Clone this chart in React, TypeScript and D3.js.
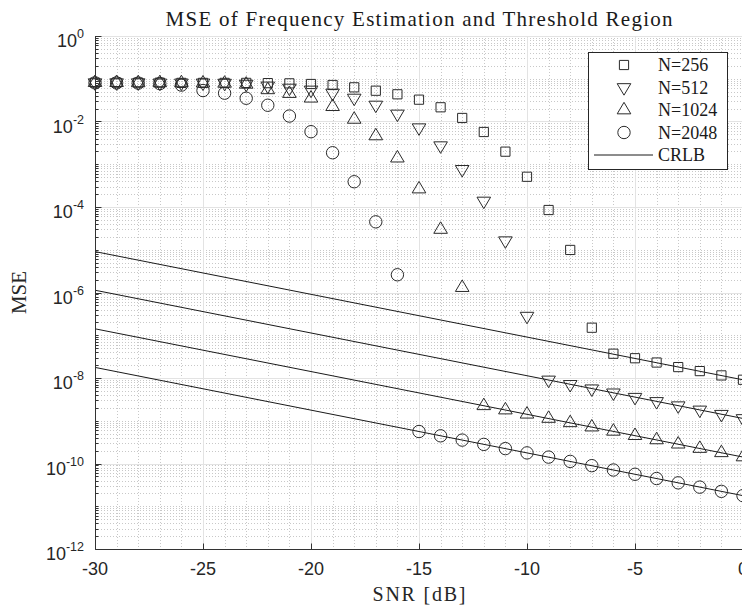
import React from 'react';
import * as d3 from 'd3';

// SNR in dB (x categories)
const snrDb = [-30, -29, -28, -27, -26, -25, -24, -23, -22, -21, -20, -19, -18, -17, -16, -15, -14, -13, -12, -11, -10, -9, -8, -7, -6, -5, -4, -3, -2, -1, 0];

// MSE values, one per SNR value
const mse256 = [0.081, 0.081, 0.081, 0.081, 0.080, 0.080, 0.080, 0.080, 0.079, 0.078,
  0.0754, 0.0714, 0.063, 0.0525, 0.0433, 0.0324, 0.0215, 0.0121, 0.00568, 0.00197,
  5.1e-4, 8.5e-5, 9.9e-6, 1.5e-7,
  3.7e-8, 2.9e-8, 2.3e-8, 1.8e-8, 1.45e-8, 1.15e-8, 9.1e-9];
const mse512 = [0.081, 0.081, 0.081, 0.080, 0.080, 0.080, 0.079, 0.075,
  0.068, 0.0607, 0.0546, 0.0464, 0.0354, 0.0243, 0.0150, 0.00716, 0.00272, 7.6e-4,
  1.38e-4, 1.63e-5, 2.8e-7,
  9.0e-9, 7.1e-9, 5.6e-9, 4.5e-9, 3.55e-9, 2.83e-9, 2.25e-9, 1.79e-9, 1.42e-9, 1.13e-9];
const mse1024 = [0.081, 0.081, 0.080, 0.080, 0.080, 0.079, 0.078, 0.074,
  0.055, 0.045, 0.035, 0.0222, 0.0112, 0.00459, 0.00139, 2.63e-4, 2.98e-5, 1.3e-6,
  2.24e-9, 1.78e-9, 1.42e-9, 1.13e-9, 8.95e-10, 7.1e-10, 5.65e-10, 4.48e-10, 3.56e-10, 2.83e-10, 2.24e-10, 1.78e-10, 1.42e-10];
const mse2048 = [0.080, 0.080, 0.079, 0.077, 0.071, 0.053, 0.046, 0.035,
  0.024, 0.0134, 0.00577, 0.00186, 3.9e-4, 4.5e-5, 2.6e-6,
  5.6e-10, 4.44e-10, 3.53e-10, 2.8e-10, 2.23e-10, 1.77e-10, 1.41e-10, 1.12e-10, 8.9e-11, 7.05e-11, 5.6e-11, 4.45e-11, 3.53e-11, 2.8e-11, 2.23e-11, 1.77e-11];

// CRLB straight lines (log scale): values at SNR -30 dB and 0 dB
const crlbSnr = [-30, 0];
const crlb256 = [9.06e-6, 9.06e-9];
const crlb512 = [1.13e-6, 1.13e-9];
const crlb1024 = [1.415e-7, 1.415e-10];
const crlb2048 = [1.77e-8, 1.77e-11];

const xTicks = [-30, -25, -20, -15, -10, -5, 0];
const yTickExps = [0, -2, -4, -6, -8, -10, -12];
const legendLabels = ['N=256', 'N=512', 'N=1024', 'N=2048', 'CRLB'];
const titleText = 'MSE of Frequency Estimation and Threshold Region';
const xLabel = 'SNR [dB]';
const yLabel = 'MSE';

const SANS = "'Liberation Sans', Arial, Helvetica, sans-serif";
const SERIF = "'Liberation Serif', 'Times New Roman', serif";

type Shape = 'square' | 'down' | 'up' | 'circle';

function markerPath(shape: Shape): string {
  const s = 4.6;
  const w = 6.8, h = 11.5;
  switch (shape) {
    case 'square':
      return `M${-s},${-s}H${s}V${s}H${-s}Z`;
    case 'down':
      return `M0,${(2 * h) / 3}L${-w},${-h / 3}H${w}Z`;
    case 'up':
      return `M0,${(-2 * h) / 3}L${-w},${h / 3}H${w}Z`;
    default: {
      const r = 6.2;
      return `M${r},0A${r},${r} 0 1,1 ${-r},0A${r},${r} 0 1,1 ${r},0Z`;
    }
  }
}

export default function App() {
  const W = 742, H = 605;
  const left = 95, right = 743, top = 36, bottom = 549;
  const x = d3.scaleLinear().domain([-30, 0]).range([left, right]);
  const y = d3.scaleLog().domain([1e-12, 1]).range([bottom, top]);

  const series: { vals: number[]; shape: Shape }[] = [
    { vals: mse256, shape: 'square' },
    { vals: mse512, shape: 'down' },
    { vals: mse1024, shape: 'up' },
    { vals: mse2048, shape: 'circle' },
  ];
  const crlbs = [crlb256, crlb512, crlb1024, crlb2048];

  const line = d3
    .line<[number, number]>()
    .x((d) => x(d[0]))
    .y((d) => y(d[1]));

  // grid positions
  const majorX = xTicks;
  const minorX = d3.range(-29, 0).filter((v) => v % 5 !== 0);
  const majorY = yTickExps.map((e) => Math.pow(10, e));
  const minorY: number[] = [];
  for (let k = -12; k < 0; k++) {
    if (k % 2 !== 0) minorY.push(Math.pow(10, k));
    for (let m = 2; m <= 9; m++) minorY.push(m * Math.pow(10, k));
  }
  const px = (v: number) => Math.round(v) + 0.5;

  const legendX = 588, legendY = 52, legendW = 139, legendH = 117;
  const rowY = [65, 87.5, 110, 132.5, 155];

  return (
    <div style={{ position: 'absolute', left: 0, top: 0 }}>
      <svg width={W} height={H} style={{ display: 'block', background: '#fff' }}>
        <rect x={0} y={0} width={W} height={H} fill="#fff" />
        {/* minor grid */}
        <g stroke="#c8c8c8" strokeWidth={1} strokeDasharray="1,2" fill="none">
          {minorX.map((v) => (
            <line key={'mx' + v} x1={px(x(v))} x2={px(x(v))} y1={top} y2={bottom} />
          ))}
          {minorY.map((v, i) => (
            <line key={'my' + i} x1={left} x2={W} y1={px(y(v))} y2={px(y(v))} />
          ))}
        </g>
        {/* major grid */}
        <g stroke="#e3e3e3" strokeWidth={1} fill="none">
          {majorX.map((v) => (
            <line key={'Mx' + v} x1={px(x(v))} x2={px(x(v))} y1={top} y2={bottom} />
          ))}
          {majorY.map((v, i) => (
            <line key={'My' + i} x1={left} x2={W} y1={px(y(v))} y2={px(y(v))} />
          ))}
        </g>

        {/* CRLB lines */}
        <g stroke="#1a1a1a" strokeWidth={1} fill="none">
          {crlbs.map((c, i) => (
            <path key={'c' + i} d={line(crlbSnr.map((s, j) => [s, c[j]] as [number, number])) || ''} />
          ))}
        </g>

        {/* markers */}
        {series.map((s, si) => (
          <g key={'s' + si} stroke="#2a2a2a" strokeWidth={1} fill="none">
            {s.vals.map((v, i) => (
              <path
                key={i}
                d={markerPath(s.shape)}
                transform={`translate(${x(snrDb[i])},${y(v)})`}
              />
            ))}
          </g>
        ))}

        {/* axes */}
        <g stroke="#333" strokeWidth={1} fill="none">
          <line x1={px(left)} x2={px(left)} y1={top} y2={px(bottom)} />
          <line x1={px(left)} x2={W} y1={px(bottom)} y2={px(bottom)} />
          {xTicks.map((v) => (
            <line key={'xt' + v} x1={px(x(v))} x2={px(x(v))} y1={px(bottom)} y2={px(bottom) - 6} />
          ))}
          {majorY.map((v, i) => (
            <line key={'yt' + i} x1={px(left)} x2={px(left) + 6} y1={px(y(v))} y2={px(y(v))} />
          ))}
          {minorY.map((v, i) => (
            <line key={'ymt' + i} x1={px(left)} x2={px(left) + 3} y1={px(y(v))} y2={px(y(v))} />
          ))}
        </g>

        {/* x tick labels */}
        <g fontFamily={SANS} fontSize={18} fill="#262626" textAnchor="middle">
          {xTicks.map((v) => (
            <text key={'xl' + v} x={x(v)} y={575}>
              {String(v)}
            </text>
          ))}
        </g>
        {/* y tick labels */}
        <g fontFamily={SANS} fontSize={18} fill="#262626" textAnchor="end">
          {yTickExps.map((e) => (
            <text key={'yl' + e} x={84} y={y(Math.pow(10, e)) + 11}>
              10
              <tspan dy={-9} fontSize={12.5}>
                {String(e)}
              </tspan>
            </text>
          ))}
        </g>

        {/* title and axis labels */}
        <text
          x={(left + right) / 2}
          y={26}
          textAnchor="middle"
          fontFamily={SERIF}
          fontSize={21}
          fill="#1a1a1a"
          textLength={507}
          lengthAdjust="spacing"
        >
          {titleText}
        </text>
        <text
          x={(left + right) / 2}
          y={601}
          textAnchor="middle"
          fontFamily={SERIF}
          fontSize={20}
          fill="#262626"
          textLength={93}
          lengthAdjust="spacing"
        >
          {xLabel}
        </text>
        <text
          transform={`translate(26,${(top + bottom) / 2}) rotate(-90)`}
          textAnchor="middle"
          fontFamily={SERIF}
          fontSize={21}
          fill="#262626"
        >
          {yLabel}
        </text>

        {/* legend */}
        <g>
          <rect
            x={legendX + 0.5}
            y={legendY + 0.5}
            width={legendW}
            height={legendH}
            fill="#fff"
            stroke="#262626"
            strokeWidth={1}
          />
          {legendLabels.map((lab, i) => (
            <g key={'lg' + i}>
              {i < 4 ? (
                <path
                  d={markerPath(series[i].shape)}
                  transform={`translate(624,${rowY[i]})`}
                  stroke="#2a2a2a"
                  strokeWidth={1}
                  fill="none"
                />
              ) : (
                <line x1={594} x2={653} y1={rowY[i]} y2={rowY[i]} stroke="#1a1a1a" strokeWidth={1} />
              )}
              <text x={658} y={rowY[i] + 6} fontFamily={SERIF} fontSize={18} fill="#1a1a1a">
                {lab}
              </text>
            </g>
          ))}
        </g>
      </svg>
    </div>
  );
}
